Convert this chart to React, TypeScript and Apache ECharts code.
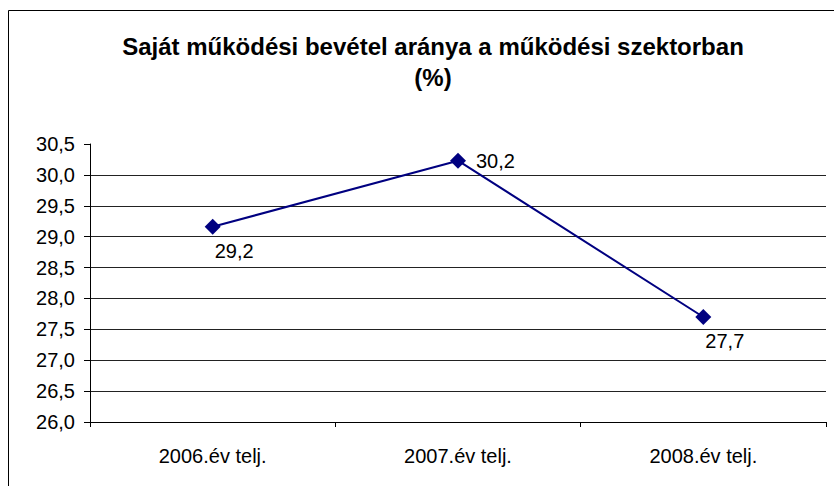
import React, { useEffect, useRef } from "react";
import * as echarts from "echarts";

const titleLines = ["Saját működési bevétel aránya a működési szektorban", "(%)"];
const categories = ["2006.év telj.", "2007.év telj.", "2008.év telj."];
const values = [29.16, 30.23, 27.7];
const yMin = 26.0;
const yMax = 30.5;
const yStep = 0.5;

const fmt = (v: number) => v.toFixed(1).replace(".", ",");

export default function App() {
  const ref = useRef<HTMLDivElement>(null);
  useEffect(() => {
    document.body.style.margin = "0";
    const chart = echarts.init(ref.current!, null, { renderer: "svg" });
    const font = "'Liberation Sans', Arial, sans-serif";
    chart.setOption({
      animation: false,
      backgroundColor: "#ffffff",
      title: {
        text: titleLines.join("\n"),
        left: 428,
        top: 26,
        textAlign: "center",
        textStyle: {
          fontFamily: font,
          fontSize: 24,
          fontWeight: "bold",
          color: "#000",
          lineHeight: 31,
        },
      },
      graphic: [
        {
          type: "rect",
          shape: { x: 8.5, y: 10.5, width: 900, height: 600 },
          style: { fill: "none", stroke: "#000", lineWidth: 1 },
          silent: true,
        },
      ],
      grid: { left: 90, right: 8, top: 144, bottom: 64, containLabel: false },
      xAxis: {
        type: "category",
        data: categories,
        boundaryGap: true,
        axisLine: { lineStyle: { color: "#000", width: 1 } },
        axisTick: { show: true, length: 5, lineStyle: { color: "#000" } },
        axisLabel: { color: "#000", fontFamily: font, fontSize: 20, margin: 24 },
        splitLine: { show: false },
      },
      yAxis: {
        type: "value",
        min: yMin,
        max: yMax,
        interval: yStep,
        axisLine: { show: true, lineStyle: { color: "#000", width: 1 } },
        axisTick: { show: true, length: 6, lineStyle: { color: "#000" } },
        axisLabel: {
          color: "#000",
          fontFamily: font,
          fontSize: 20,
          margin: 15,
          formatter: (v: number) => fmt(v),
        },
        splitLine: { show: true, showMaxLine: false, lineStyle: { color: "#222", width: 1 } },
      },
      series: [
        {
          type: "line",
          data: values.map((v, i) => ({
            value: v,
            label:
              i === 1
                ? { position: "right", distance: 10, align: "left", verticalAlign: "middle" }
                : { position: [10, 22], align: "left", verticalAlign: "top" },
          })),
          symbol: "diamond",
          symbolSize: 16,
          itemStyle: { color: "#000080" },
          lineStyle: { color: "#000080", width: 2 },
          label: {
            show: true,
            color: "#000",
            fontFamily: font,
            fontSize: 20,
            formatter: (p: any) => fmt(p.value),
          },
        },
      ],
    });
    return () => chart.dispose();
  }, []);
  return <div ref={ref} style={{ width: 834, height: 486 }} />;
}
